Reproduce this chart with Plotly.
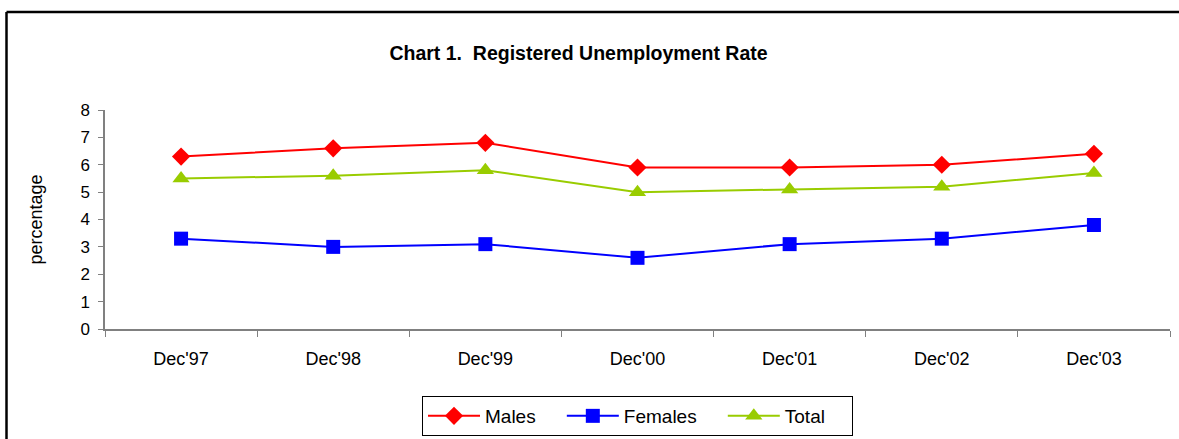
import plotly.graph_objects as go

categories = ["Dec'97", "Dec'98", "Dec'99", "Dec'00", "Dec'01", "Dec'02", "Dec'03"]
males = [6.3, 6.6, 6.8, 5.9, 5.9, 6.0, 6.4]
females = [3.3, 3.0, 3.1, 2.6, 3.1, 3.3, 3.8]
total = [5.5, 5.6, 5.8, 5.0, 5.1, 5.2, 5.7]
y_ticks = [0, 1, 2, 3, 4, 5, 6, 7, 8]

FONT = "Liberation Sans, Arial, sans-serif"
W, H = 1179, 439
L, R, T, B = 105, 9, 110, 110
pw = W - L - R
ph = H - T - B
PAD = "&nbsp;" * 4

fig = go.Figure()
fig.add_trace(go.Scatter(x=categories, y=males, name="Males" + PAD, mode="lines+markers",
                         line=dict(color="#FF0000", width=2),
                         marker=dict(symbol="diamond", size=14, color="#FF0000")))
fig.add_trace(go.Scatter(x=categories, y=females, name="Females" + PAD, mode="lines+markers",
                         line=dict(color="#0000FF", width=2),
                         marker=dict(symbol="square", size=14, color="#0000FF")))
fig.add_trace(go.Scatter(x=categories, y=total, name="Total" + PAD, mode="lines+markers",
                         line=dict(color="#99CC00", width=2),
                         marker=dict(symbol="triangle-up", size=15, color="#99CC00")))

def px_x(x):
    return (x - L) / pw

def px_y(y):
    return (H - B - y) / ph

shapes = [
    dict(type="line", xref="paper", yref="paper", x0=px_x(6.5), x1=px_x(W + 5),
         y0=px_y(12), y1=px_y(12), line=dict(color="black", width=2.5)),
    dict(type="line", xref="paper", yref="paper", x0=px_x(6.5), x1=px_x(6.5),
         y0=px_y(12), y1=px_y(H + 5), line=dict(color="black", width=2.5)),
]

fig.update_layout(
    width=W, height=H,
    margin=dict(l=L, r=R, t=T, b=B, autoexpand=False),
    paper_bgcolor="white", plot_bgcolor="white",
    font=dict(family=FONT, size=18, color="black"),
    title=dict(text="<b>Chart 1.  Registered Unemployment Rate</b>",
               x=578.5 / W, xref="container", xanchor="center",
               y=1 - 53 / H, yref="container", yanchor="middle",
               font=dict(family=FONT, size=19.5, color="black")),
    xaxis=dict(type="category", range=[-0.5, 6.5], showline=True, linecolor="#808080",
               linewidth=1.5, ticks="outside", tickson="boundaries", ticklen=6,
               tickcolor="#808080", tickwidth=1, showgrid=False, zeroline=False,
               ticklabelstandoff=13, tickfont=dict(size=18), automargin=False),
    yaxis=dict(range=[0, 8], tickvals=y_ticks, showline=True, linecolor="#808080",
               linewidth=1.5, ticks="outside", ticklen=5, tickcolor="#808080",
               tickwidth=1, showgrid=False, zeroline=False, tickfont=dict(size=17),
               ticklabelstandoff=5, automargin=False,
               title=dict(text="percentage", standoff=33, font=dict(size=18))),
    legend=dict(orientation="h", x=0.5, xanchor="center", y=px_y(416), yanchor="middle",
                bordercolor="black", borderwidth=1, bgcolor="white",
                font=dict(size=19), itemwidth=52),
    shapes=shapes,
    showlegend=True,
)

fig.write_html("out.html", config={"displayModeBar": False},
               post_script="document.body.style.margin='0';document.body.style.padding='0';")
